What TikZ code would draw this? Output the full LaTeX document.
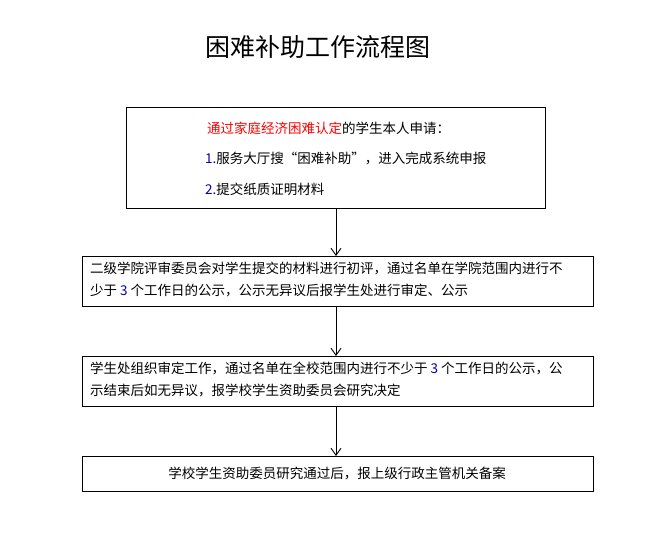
\documentclass[tikz,border=0pt]{standalone}
\usepackage{fontspec}
\setmainfont{Noto Sans CJK SC}
\begin{document}
\begin{tikzpicture}[x=1pt,y=-1pt,
  box/.style={draw,line width=0.9pt},
  txt/.style={anchor=west,inner sep=0pt,font=\fontsize{13.5}{22}\selectfont},
  arr/.style={-{Straight Barb[length=7pt,width=10pt]},line width=0.9pt}]
\useasboundingbox (0,0) rectangle (665,537);
\usetikzlibrary{arrows.meta}
\node[inner sep=0pt,font=\fontsize{25}{30}\selectfont] (title) at (318,47) {困难补助工作流程图};
\draw[box] (126,107) rectangle (545,208);
\coordinate (b1) at (336,208);
\node[txt] (l1) at (207,128) {\textcolor{red}{通过家庭经济困难认定}的学生本人申请：};
\node[txt] (l2) at (205,158) {\textcolor{blue!70!black}{1.}服务大厅搜“困难补助”，进入完成系统申报};
\node[txt] (l3) at (205,189) {\textcolor{blue!70!black}{2.}提交纸质证明材料};
\draw[box] (82,256) rectangle (593,306);
\coordinate (t2) at (336,256); \coordinate (b2) at (336,306);
\node[txt,align=left,anchor=north west] (m2) at (90,262) {二级学院评审委员会对学生提交的材料进行初评，通过名单在学院范围内进行不\\少于 \textcolor{blue!70!black}{3} 个工作日的公示，公示无异议后报学生处进行审定、公示};
\draw[box] (82,356) rectangle (593,406);
\coordinate (t3) at (336,356); \coordinate (b3) at (336,406);
\node[txt,align=left,anchor=north west] (m3) at (90,362) {学生处组织审定工作，通过名单在全校范围内进行不少于 \textcolor{blue!70!black}{3} 个工作日的公示，公\\示结束后如无异议，报学校学生资助委员会研究决定};
\draw[box] (82,456) rectangle (593,491);
\coordinate (t4) at (336,456);
\node[txt,anchor=center] (m4) at (337,473) {学校学生资助委员研究通过后，报上级行政主管机关备案};
\draw[arr] (b1) -- (t2);
\draw[arr] (b2) -- (t3);
\draw[arr] (b3) -- (t4);
\end{tikzpicture}
\end{document}
